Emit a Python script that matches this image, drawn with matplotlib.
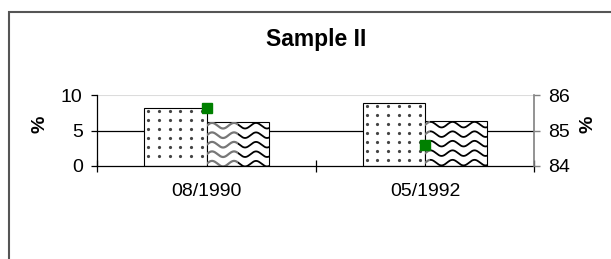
import matplotlib
matplotlib.use('Agg')
import matplotlib.pyplot as plt
import numpy as np
from matplotlib.patches import Rectangle
from matplotlib.transforms import IdentityTransform

# ---- data ----
categories = ['08/1990', '05/1992']
series_dots = [8.15, 8.95]
series_wave = [6.25, 6.4]
series_marker = [85.63, 84.58]
left_ticks = [0, 5, 10]
right_ticks = [84, 85, 86]
title = 'Sample II'

plt.rcParams['font.family'] = ['Liberation Sans', 'DejaVu Sans']

W, H = 611, 259
fig = plt.figure(figsize=(W / 100, H / 100), dpi=100)
fig.patch.set_facecolor('white')

# chart-area border (runs off the right and bottom edges)
fig.patches.append(Rectangle((9 / W, -0.2), 1.2, (1 - 12.3 / H) + 0.2,
                             transform=fig.transFigure, fill=False,
                             edgecolor='#555555', lw=1.5))

ax = fig.add_axes([97.3 / W, 1 - 165.7 / H, 437 / W, 70.4 / H])
ax.set_xlim(0, len(categories))
ax.set_ylim(left_ticks[0], left_ticks[-1])

x = np.arange(len(categories)) + 0.5
w = 1 / 3.5
bars1 = ax.bar(x - w / 2, series_dots, w, facecolor='white', edgecolor='black',
               lw=0.8, zorder=3)
bars2 = ax.bar(x + w / 2, series_wave, w, facecolor='white', edgecolor='black',
               lw=0.8, zorder=3)

ax.axhline(5, color='black', lw=0.9, zorder=1)
ax.axhline(10, color='#dcdcdc', lw=1.5, zorder=1)

ident = IdentityTransform()

def bar_extent(b):
    (x0, y0) = ax.transData.transform((b.get_x(), b.get_y()))
    (x1, y1) = ax.transData.transform((b.get_x() + b.get_width(),
                                       b.get_y() + b.get_height()))
    return x0, y0, x1, y1

# dotted pattern
for b in bars1:
    x0, y0, x1, y1 = bar_extent(b)
    xs = np.arange(x0 + 4, x1 - 1.5, 10.7)
    ys = np.arange(y1 - 3, y0 + 1, -9.0)
    gx, gy = np.meshgrid(xs, ys)
    ln, = ax.plot(gx.ravel(), gy.ravel(), 'o', ms=2.3, color='#444444',
                  mec='none', transform=ident, zorder=4)
    ln.set_clip_path(b)

# wave pattern
gray_frac = [0.5, 0.08]
for b, gf in zip(bars2, gray_frac):
    x0, y0, x1, y1 = bar_extent(b)
    xs = np.linspace(x0 - 5, x1 + 5, 400)
    split = x0 + gf * (x1 - x0)
    left_clip = Rectangle((x0, y0), split - x0, y1 - y0, transform=ident)
    right_clip = Rectangle((split, y0), x1 - split, y1 - y0, transform=ident)
    for base in np.arange(y1 - 4, y0 - 6, -9.5):
        ys = base + 2.8 * np.sin(2 * np.pi * (xs - x0) / 22.0)
        lg, = ax.plot(xs, ys, color='#777777', lw=1.6, transform=ident, zorder=4)
        lg.set_clip_path(left_clip)
        lk, = ax.plot(xs, ys, color='black', lw=1.3, transform=ident, zorder=4)
        lk.set_clip_path(right_clip)

ax.set_xlim(0, len(categories))
ax.set_ylim(left_ticks[0], left_ticks[-1])

# axes styling
for s in ['top', 'right']:
    ax.spines[s].set_visible(False)
ax.spines['left'].set_linewidth(0.9)
ax.spines['bottom'].set_linewidth(0.9)
ax.spines['bottom'].set_zorder(5)

ax.set_xticks(np.arange(len(categories) + 1))
ax.set_xticklabels([])
ax.tick_params(axis='x', which='major', direction='inout', length=9, width=0.9)
ax.set_xticks(x, minor=True)
ax.set_xticklabels(categories, minor=True)
ax.tick_params(axis='x', which='minor', length=0, pad=12.5, labelsize=14)

ax.set_yticks(left_ticks)
ax.tick_params(axis='y', direction='out', length=4, width=0.9, pad=6.5,
               labelsize=14)

ax2 = ax.twinx()
ax2.set_ylim(right_ticks[0], right_ticks[-1])
ax2.plot(x, series_marker, 's', color='#008000', ms=6.5, mec='#008000',
         zorder=6, clip_on=False)
for s in ['top', 'left', 'bottom']:
    ax2.spines[s].set_visible(False)
ax2.spines['right'].set_color('#808080')
ax2.spines['right'].set_linewidth(1.2)
ax2.set_yticks(right_ticks)
ax2.tick_params(axis='y', direction='out', length=4.3, width=1.0,
                color='#808080', pad=5.8, labelsize=14)

# axis titles and chart title
fig.text(40 / W, 1 - 124.5 / H, '%', rotation=90, ha='center', va='center',
         fontsize=14, fontweight='bold')
fig.text(588 / W, 1 - 124 / H, '%', rotation=90, ha='center', va='center',
         fontsize=14, fontweight='bold')
fig.text(316 / W, 1 - 45.7 / H, title, ha='center', va='baseline',
         fontsize=16.5, fontweight='bold')

fig.savefig('out.png', dpi=100)
